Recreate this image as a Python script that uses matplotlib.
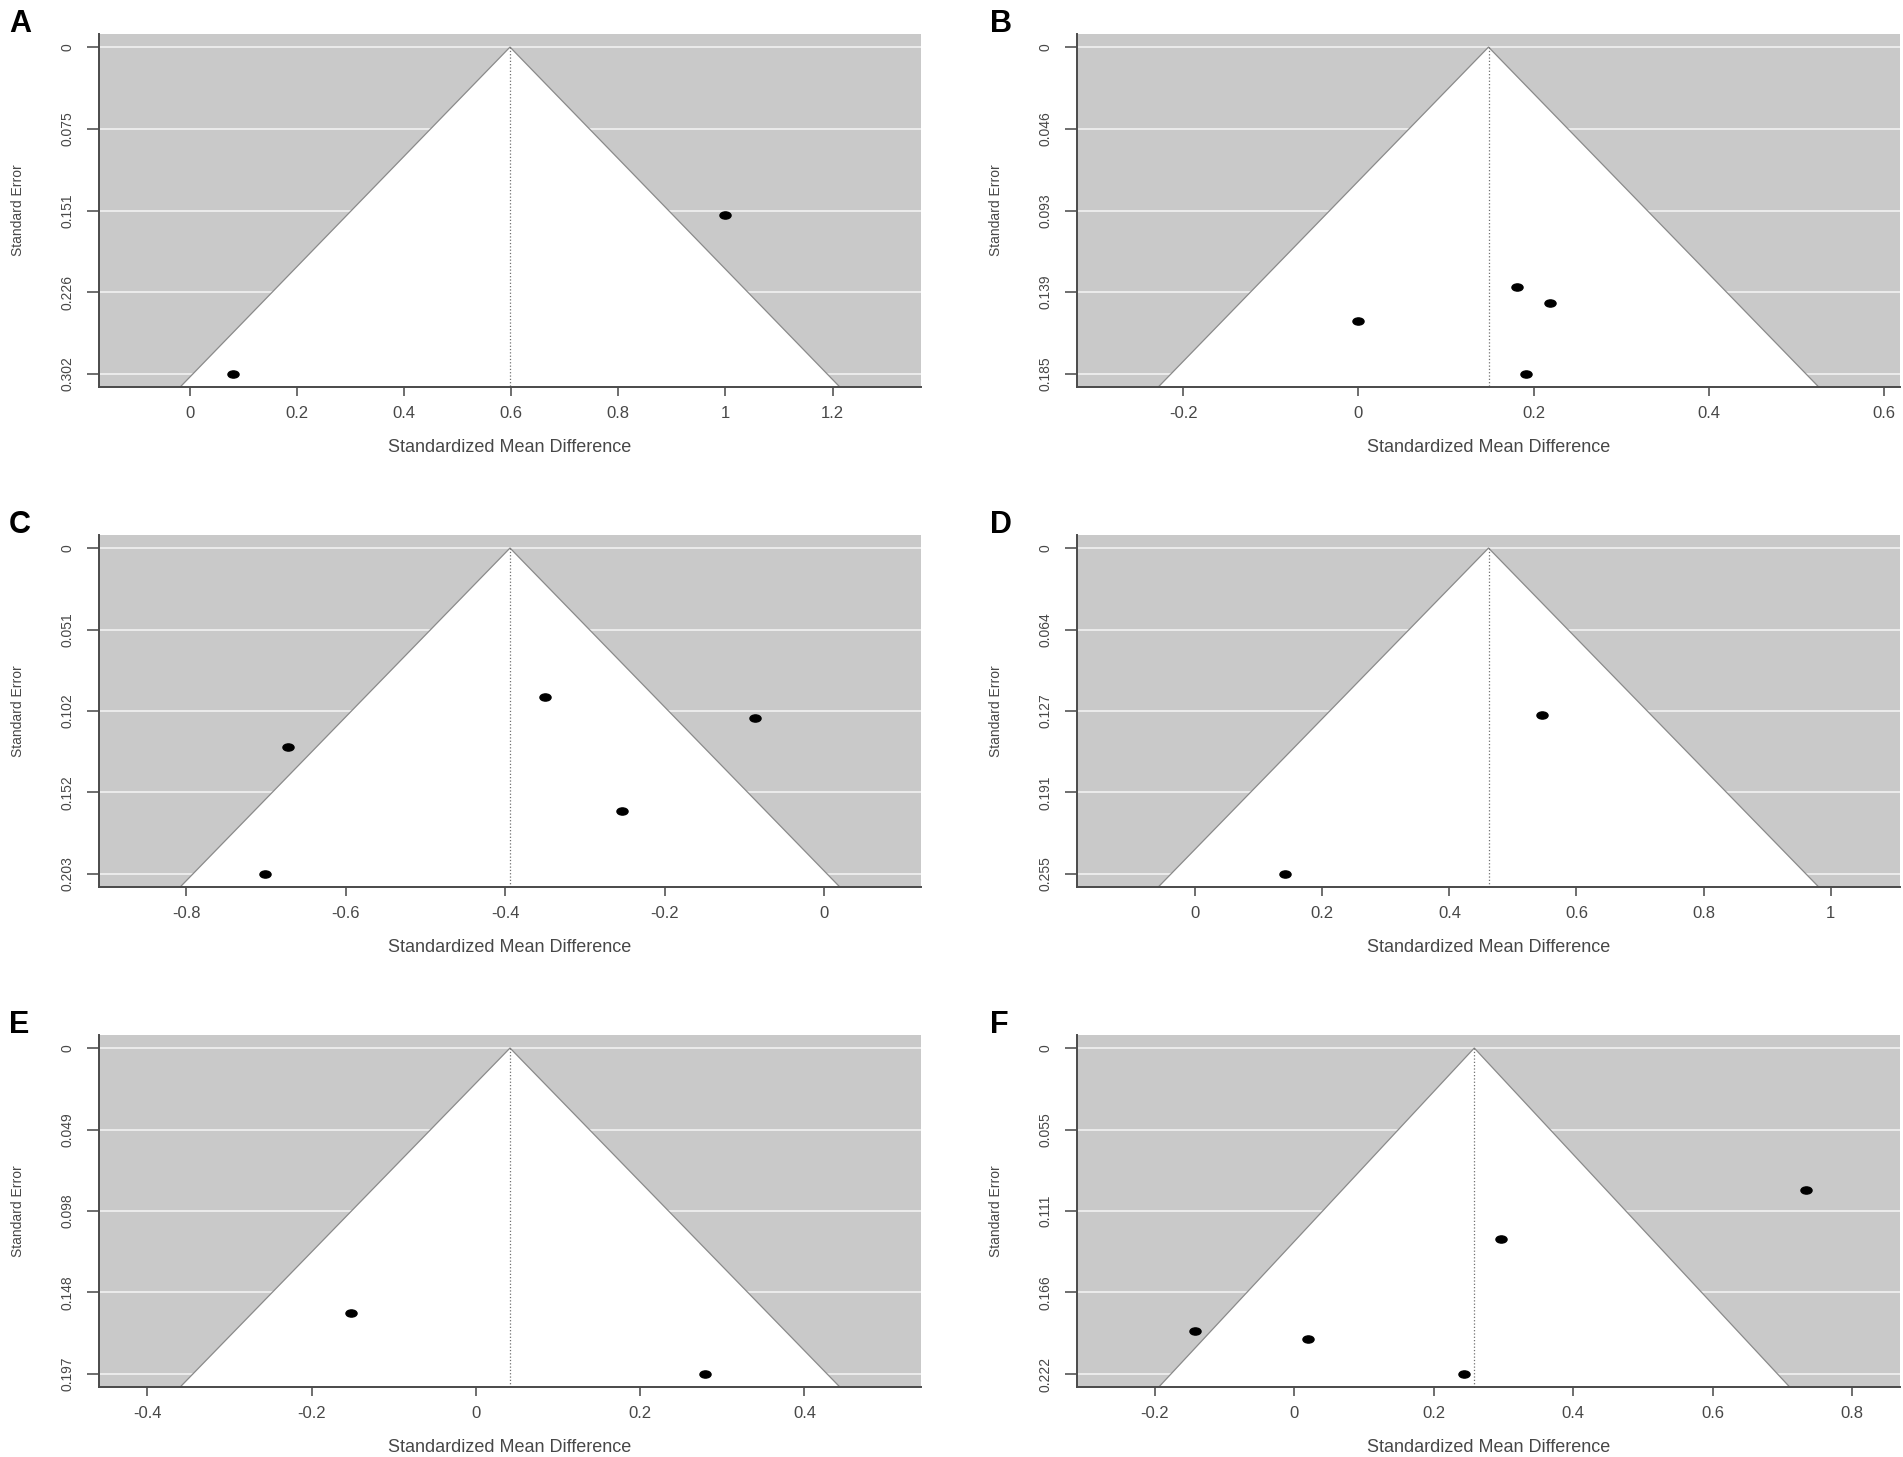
import numpy as np
import matplotlib
matplotlib.use('Agg')
import matplotlib.pyplot as plt
from matplotlib.path import Path
from matplotlib.transforms import Affine2D
from matplotlib.ticker import MultipleLocator, FuncFormatter
from matplotlib import font_manager

# values
letters = ['A', 'B', 'C', 'D', 'E', 'F']

a_smd = [0.081, 1.000]
a_se = [0.302, 0.155]
b_smd = [0.181, 0.219, 0.000, 0.191]
b_se = [0.136, 0.145, 0.155, 0.185]
c_smd = [-0.350, -0.086, -0.672, -0.253, -0.701]
c_se = [0.093, 0.106, 0.124, 0.164, 0.203]
d_smd = [0.546, 0.141]
d_se = [0.131, 0.255]
e_smd = [-0.152, 0.279]
e_se = [0.160, 0.197]
f_smd = [0.734, 0.297, -0.142, 0.020, 0.243]
f_se = [0.097, 0.130, 0.193, 0.198, 0.222]

# pooled estimates (apex of the funnel)
estimates = [0.598, 0.1485, -0.394, 0.4615, 0.0415, 0.258]

a_yticks = ['0', '0.075', '0.151', '0.226', '0.302']
b_yticks = ['0', '0.046', '0.093', '0.139', '0.185']
c_yticks = ['0', '0.051', '0.102', '0.152', '0.203']
d_yticks = ['0', '0.064', '0.127', '0.191', '0.255']
e_yticks = ['0', '0.049', '0.098', '0.148', '0.197']
f_yticks = ['0', '0.055', '0.111', '0.166', '0.222']

smds = [a_smd, b_smd, c_smd, d_smd, e_smd, f_smd]
ses = [a_se, b_se, c_se, d_se, e_se, f_se]
yticklabels = [a_yticks, b_yticks, c_yticks, d_yticks, e_yticks, f_yticks]

xlab = 'Standardized Mean Difference'
ylab = 'Standard Error'

names = {f.name for f in font_manager.fontManager.ttflist}
narrow = 'Liberation Sans Narrow' if 'Liberation Sans Narrow' in names else 'Liberation Sans'
rot_size = 11.5 if narrow == 'Liberation Sans Narrow' else 10
plt.rcParams['font.family'] = ['Liberation Sans', 'DejaVu Sans']

W, H = 1903, 1457
fig = plt.figure(figsize=(W / 100, H / 100), dpi=100)

# axes boxes in pixels: left, top, right, bottom
col_x = [(99, 921), (1077, 1900)]
row_y = [(34, 387), (535, 887), (1035, 1387)]

gray = '#c9c9c9'
txt = '#474747'
ell = Path.unit_circle().transformed(Affine2D().scale(1.55, 1.0))

for i in range(6):
    r, c = divmod(i, 2)
    x0, x1 = col_x[c]
    y0, y1 = row_y[r]
    ax = fig.add_axes([x0 / W, 1 - y1 / H, (x1 - x0) / W, (y1 - y0) / H])
    ax.set_facecolor(gray)

    x = np.array(smds[i])
    se = np.array(ses[i])
    est = estimates[i]
    m = se.max()
    ybot = 1.04 * m

    # metafor-style x range, then R's 4% axis extension
    lo = min(est - 1.96 * m, x.min())
    hi = max(est + 1.96 * m, x.max())
    rng = hi - lo
    lo, hi = lo - 0.1 * rng, hi + 0.1 * rng
    pad = 0.04 * (hi - lo)
    ax.set_xlim(lo - pad, hi + pad)
    ax.set_ylim(ybot, -0.04 * m)

    ax.fill([est - 1.96 * ybot, est, est + 1.96 * ybot], [ybot, 0, ybot],
            color='white', zorder=1, lw=0)
    ax.plot([est - 1.96 * ybot, est, est + 1.96 * ybot], [ybot, 0, ybot],
            color='#8a8a8a', lw=0.9, zorder=2)
    ax.plot([est, est], [0, ybot], color='#707070', lw=0.9, ls=':', zorder=2)
    ax.plot(x, se, ls='none', marker=ell, ms=8, color='black', zorder=3)

    ax.set_yticks(np.linspace(0, m, 5))
    ax.set_yticklabels(yticklabels[i], rotation=90, va='center',
                       fontfamily=narrow, fontsize=rot_size, color=txt)
    ax.yaxis.grid(True, color='#ebebeb', lw=1.4)
    ax.set_axisbelow(True)

    ax.xaxis.set_major_locator(MultipleLocator(0.2))
    ax.xaxis.set_major_formatter(FuncFormatter(
        lambda v, _: '0' if abs(v) < 1e-9 else f'{round(v, 2):g}'))
    ax.tick_params(axis='x', length=6.5, width=1.2, pad=7.5, color='#555555',
                   labelsize=12, labelcolor=txt)
    ax.tick_params(axis='y', length=8.5, width=1.2, pad=9, color='#555555')

    for s in ['top', 'right']:
        ax.spines[s].set_visible(False)
    for s in ['left', 'bottom']:
        ax.spines[s].set_color('#4a4a4a')
        ax.spines[s].set_linewidth(1.4)

    ax.set_xlabel(xlab, fontsize=13, color=txt)
    ax.xaxis.set_label_coords(0.5, -52 / (y1 - y0))
    ax.set_ylabel(ylab, fontfamily=narrow, fontsize=rot_size, color=txt)
    ax.yaxis.set_label_coords(-74 / (x1 - x0), 0.5)

    lx = 9 if c == 0 else 990
    ly = [9, 510, 1010][r]
    fig.text(lx / W, 1 - ly / H, letters[i], fontsize=22, fontweight='bold',
             va='top', ha='left', color='black')

fig.savefig('out.png', dpi=100, facecolor='white')
